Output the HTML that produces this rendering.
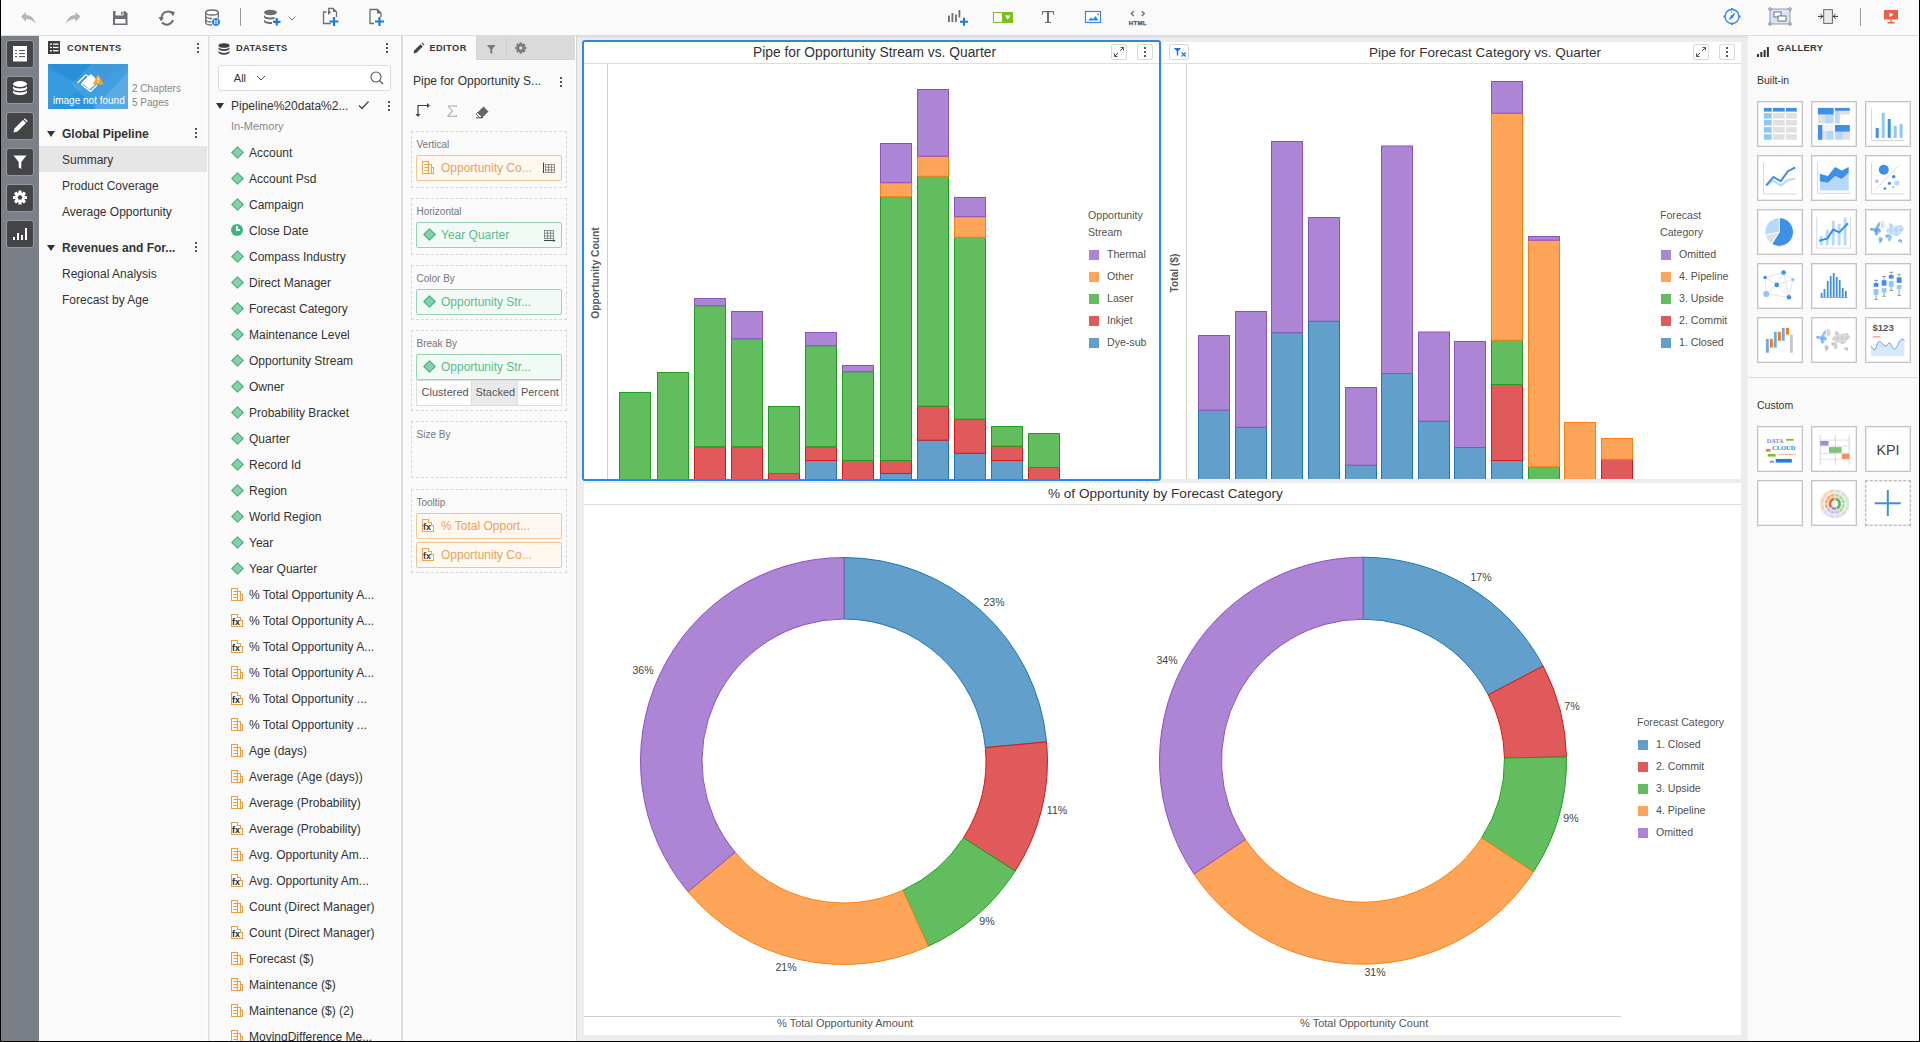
<!DOCTYPE html><html><head><meta charset="utf-8"><style>*{box-sizing:border-box;margin:0;padding:0}
html,body{width:1920px;height:1042px;overflow:hidden;background:#fafafa;font-family:"Liberation Sans",sans-serif;color:#333;position:relative}
.a{position:absolute}
.t{position:absolute;white-space:nowrap;line-height:1}
#tb{left:0;top:0;width:1920px;height:36px;background:#fafafa;border-bottom:1px solid #dcdcdc}
#sb{left:1px;top:36px;width:38px;height:1005px;background:#7b8088}
.sbb{position:absolute;left:6px;width:28px;height:28px;background:#424448;border:1px solid #97999c;border-radius:3px}
#cp{left:39px;top:36px;width:168px;height:1005px;background:#fafafa;border-right:1px solid #fff}
#dp{left:208px;top:36px;width:193px;height:1005px;background:#fafafa;border-left:1px solid #dedede;box-shadow:inset 1px 0 0 #efefef;border-right:1px solid #fff}
#ep{left:401px;top:36px;width:175px;height:1005px;background:#fafafa;border-left:1px solid #d4d4d4;box-shadow:inset 1px 0 0 #e0e0e0;border-right:1px solid #fff}
#cv{left:576px;top:36px;width:1173px;height:1005px;background:#ededed;border-left:1px solid #d4d4d4;border-right:1px solid #fff}
#gp{left:1749px;top:36px;width:170px;height:1005px;background:#fafafa;border-right:1px solid #fff}
.k{position:absolute;width:2px;height:10px}
.k i{position:absolute;left:0;width:2px;height:2px;background:#555}
.k i:nth-child(1){top:0}.k i:nth-child(2){top:4px}.k i:nth-child(3){top:8px}
.di{position:absolute;width:9px;height:9px;background:#86d0aa;border:1.4px solid #3cb478;transform:rotate(45deg);margin:0.5px 0 0 0.5px}
.dt{font-size:12px;color:#333}
.ms{position:absolute;width:12px;height:14px}
.panel{position:absolute;background:#fff}
.gt{position:absolute;width:46px;height:46px;background:#fff;border:1px solid #c8c8c8}
</style></head><body><div class="a" style="left:0;top:0;width:1px;height:1042px;background:#000;z-index:50"></div><div class="a" style="left:0;top:1041px;width:1920px;height:1px;background:#000;z-index:50"></div><div class="a" style="left:1919px;top:0;width:1px;height:1042px;background:#000;z-index:50"></div><div id="tb" class="a"><!--TB--></div><div id="sb" class="a"><!--SB--></div><div id="cp" class="a"><!--CP--></div><div id="dp" class="a"><!--DP--></div><div id="ep" class="a"><!--EP--></div><div id="cv" class="a"></div><div id="gp" class="a"></div><div class="a" style="left:577px;top:36px;width:1171px;height:2px;background:linear-gradient(#dcdcdc,#e8e8e8)"></div><div class="sbb" style="left:6px;top:40px"></div><div class="sbb" style="left:6px;top:76px"></div><div class="sbb" style="left:6px;top:112px"></div><div class="sbb" style="left:6px;top:148px"></div><div class="sbb" style="left:6px;top:184px"></div><div class="sbb" style="left:6px;top:220px"></div><!--SBICONS--><div class="a" style="left:48px;top:41px;width:12px;height:13px;background:#3c3e42"></div><div class="t" style="left:67px;top:44.1px;font-size:9.3px;color:#383838;font-weight:bold;letter-spacing:0.45px">CONTENTS</div><div class="k" style="left:197px;top:43px"><i></i><i></i><i></i></div><div class="a" style="left:48px;top:64px;width:80px;height:45px;background:#2b95dd;overflow:hidden"><div class="a" style="left:40px;top:-20px;width:80px;height:80px;background:rgba(255,255,255,0.1);transform:rotate(45deg)"></div></div><div class="t" style="left:53px;top:95.7px;font-size:10px;color:#fff;font-weight:normal;z-index:6">image not found</div><div class="t" style="left:132px;top:84.0px;font-size:10px;color:#888;font-weight:normal;">2 Chapters</div><div class="t" style="left:132px;top:98.0px;font-size:10px;color:#888;font-weight:normal;">5 Pages</div><div class="a" style="left:39px;top:146px;width:168px;height:26px;background:#e6e6e6"></div><div class="t" style="left:62px;top:128.1px;font-size:12px;color:#333;font-weight:bold;">Global Pipeline</div><div class="t" style="left:62px;top:154.1px;font-size:12px;color:#333;font-weight:normal;">Summary</div><div class="t" style="left:62px;top:180.1px;font-size:12px;color:#333;font-weight:normal;">Product Coverage</div><div class="t" style="left:62px;top:206.1px;font-size:12px;color:#333;font-weight:normal;">Average Opportunity</div><div class="t" style="left:62px;top:242.1px;font-size:12px;color:#333;font-weight:bold;">Revenues and For...</div><div class="t" style="left:62px;top:268.1px;font-size:12px;color:#333;font-weight:normal;">Regional Analysis</div><div class="t" style="left:62px;top:294.1px;font-size:12px;color:#333;font-weight:normal;">Forecast by Age</div><div class="a" style="left:47px;top:131px;width:0;height:0;border-left:4.5px solid transparent;border-right:4.5px solid transparent;border-top:6px solid #333"></div><div class="a" style="left:47px;top:245px;width:0;height:0;border-left:4.5px solid transparent;border-right:4.5px solid transparent;border-top:6px solid #333"></div><div class="k" style="left:195px;top:128px"><i></i><i></i><i></i></div><div class="k" style="left:195px;top:242px"><i></i><i></i><i></i></div><div class="t" style="left:236px;top:44.1px;font-size:9.3px;color:#383838;font-weight:bold;letter-spacing:0.35px">DATASETS</div><div class="k" style="left:386px;top:43px"><i></i><i></i><i></i></div><div class="a" style="left:218px;top:65px;width:173px;height:26px;background:#fff;border:1px solid #dcdcdc;border-radius:3px"></div><div class="t" style="left:233.8px;top:72.9px;font-size:11px;color:#333;font-weight:normal;">All</div><!--SEARCH--><div class="a" style="left:216px;top:103.3px;width:0;height:0;border-left:4.5px solid transparent;border-right:4.5px solid transparent;border-top:6px solid #333"></div><div class="t" style="left:231px;top:100.3px;font-size:12px;color:#333;font-weight:normal;">Pipeline%20data%2...</div><!--CHECK--><div class="k" style="left:388px;top:101px"><i></i><i></i><i></i></div><div class="t" style="left:231px;top:121.0px;font-size:11px;color:#888;font-weight:normal;">In-Memory</div><div class="di" style="left:232px;top:147px"></div><div class="t" style="left:249px;top:146.8px;font-size:12px;color:#333;font-weight:normal;">Account</div><div class="di" style="left:232px;top:173px"></div><div class="t" style="left:249px;top:172.8px;font-size:12px;color:#333;font-weight:normal;">Account Psd</div><div class="di" style="left:232px;top:199px"></div><div class="t" style="left:249px;top:198.8px;font-size:12px;color:#333;font-weight:normal;">Campaign</div><div class="a" style="left:231px;top:224px;width:12px;height:12px;border-radius:50%;background:#3fb47a"><div class="a" style="left:5px;top:2px;width:1.5px;height:4.5px;background:#fff"></div><div class="a" style="left:5px;top:5px;width:4px;height:1.5px;background:#fff"></div></div><div class="t" style="left:249px;top:224.8px;font-size:12px;color:#333;font-weight:normal;">Close Date</div><div class="di" style="left:232px;top:251px"></div><div class="t" style="left:249px;top:250.8px;font-size:12px;color:#333;font-weight:normal;">Compass Industry</div><div class="di" style="left:232px;top:277px"></div><div class="t" style="left:249px;top:276.8px;font-size:12px;color:#333;font-weight:normal;">Direct Manager</div><div class="di" style="left:232px;top:303px"></div><div class="t" style="left:249px;top:302.8px;font-size:12px;color:#333;font-weight:normal;">Forecast Category</div><div class="di" style="left:232px;top:329px"></div><div class="t" style="left:249px;top:328.8px;font-size:12px;color:#333;font-weight:normal;">Maintenance Level</div><div class="di" style="left:232px;top:355px"></div><div class="t" style="left:249px;top:354.8px;font-size:12px;color:#333;font-weight:normal;">Opportunity Stream</div><div class="di" style="left:232px;top:381px"></div><div class="t" style="left:249px;top:380.8px;font-size:12px;color:#333;font-weight:normal;">Owner</div><div class="di" style="left:232px;top:407px"></div><div class="t" style="left:249px;top:406.8px;font-size:12px;color:#333;font-weight:normal;">Probability Bracket</div><div class="di" style="left:232px;top:433px"></div><div class="t" style="left:249px;top:432.8px;font-size:12px;color:#333;font-weight:normal;">Quarter</div><div class="di" style="left:232px;top:459px"></div><div class="t" style="left:249px;top:458.8px;font-size:12px;color:#333;font-weight:normal;">Record Id</div><div class="di" style="left:232px;top:485px"></div><div class="t" style="left:249px;top:484.8px;font-size:12px;color:#333;font-weight:normal;">Region</div><div class="di" style="left:232px;top:511px"></div><div class="t" style="left:249px;top:510.8px;font-size:12px;color:#333;font-weight:normal;">World Region</div><div class="di" style="left:232px;top:537px"></div><div class="t" style="left:249px;top:536.8px;font-size:12px;color:#333;font-weight:normal;">Year</div><div class="di" style="left:232px;top:563px"></div><div class="t" style="left:249px;top:562.8px;font-size:12px;color:#333;font-weight:normal;">Year Quarter</div><svg class="a" style="left:231px;top:587px;z-index:5" width="14" height="15"><path d="M0.5,13.5 V1.5 H6.5 V4.5 H9.5 V7.5 H11.5 V13.5 Z M6.5,4.5 V13.5 M9.5,7.5 V13.5 M2.3,4.5 H6.5 M2.3,7.5 H6.5 M2.3,10.5 H6.5" stroke="#ec9d3e" stroke-width="1.05" fill="none"/></svg><div class="t" style="left:249px;top:588.8px;font-size:12px;color:#333;font-weight:normal;">% Total Opportunity A...</div><svg class="a" style="left:231px;top:613px;z-index:5" width="15" height="15"><path d="M0.5,13.5 V1.5 H6.5 V4.5 H9.5 V7.5 H11.5 V13.5 Z" stroke="#ec9d3e" stroke-width="1.05" fill="#fff"/><text x="1.1" y="12" font-family="Liberation Sans" font-weight="bold" font-size="9" fill="#1e1e1e">fx</text></svg><div class="t" style="left:249px;top:614.8px;font-size:12px;color:#333;font-weight:normal;">% Total Opportunity A...</div><svg class="a" style="left:231px;top:639px;z-index:5" width="15" height="15"><path d="M0.5,13.5 V1.5 H6.5 V4.5 H9.5 V7.5 H11.5 V13.5 Z" stroke="#ec9d3e" stroke-width="1.05" fill="#fff"/><text x="1.1" y="12" font-family="Liberation Sans" font-weight="bold" font-size="9" fill="#1e1e1e">fx</text></svg><div class="t" style="left:249px;top:640.8px;font-size:12px;color:#333;font-weight:normal;">% Total Opportunity A...</div><svg class="a" style="left:231px;top:665px;z-index:5" width="14" height="15"><path d="M0.5,13.5 V1.5 H6.5 V4.5 H9.5 V7.5 H11.5 V13.5 Z M6.5,4.5 V13.5 M9.5,7.5 V13.5 M2.3,4.5 H6.5 M2.3,7.5 H6.5 M2.3,10.5 H6.5" stroke="#ec9d3e" stroke-width="1.05" fill="none"/></svg><div class="t" style="left:249px;top:666.8px;font-size:12px;color:#333;font-weight:normal;">% Total Opportunity A...</div><svg class="a" style="left:231px;top:691px;z-index:5" width="15" height="15"><path d="M0.5,13.5 V1.5 H6.5 V4.5 H9.5 V7.5 H11.5 V13.5 Z" stroke="#ec9d3e" stroke-width="1.05" fill="#fff"/><text x="1.1" y="12" font-family="Liberation Sans" font-weight="bold" font-size="9" fill="#1e1e1e">fx</text></svg><div class="t" style="left:249px;top:692.8px;font-size:12px;color:#333;font-weight:normal;">% Total Opportunity ...</div><svg class="a" style="left:231px;top:717px;z-index:5" width="14" height="15"><path d="M0.5,13.5 V1.5 H6.5 V4.5 H9.5 V7.5 H11.5 V13.5 Z M6.5,4.5 V13.5 M9.5,7.5 V13.5 M2.3,4.5 H6.5 M2.3,7.5 H6.5 M2.3,10.5 H6.5" stroke="#ec9d3e" stroke-width="1.05" fill="none"/></svg><div class="t" style="left:249px;top:718.8px;font-size:12px;color:#333;font-weight:normal;">% Total Opportunity ...</div><svg class="a" style="left:231px;top:743px;z-index:5" width="14" height="15"><path d="M0.5,13.5 V1.5 H6.5 V4.5 H9.5 V7.5 H11.5 V13.5 Z M6.5,4.5 V13.5 M9.5,7.5 V13.5 M2.3,4.5 H6.5 M2.3,7.5 H6.5 M2.3,10.5 H6.5" stroke="#ec9d3e" stroke-width="1.05" fill="none"/></svg><div class="t" style="left:249px;top:744.8px;font-size:12px;color:#333;font-weight:normal;">Age (days)</div><svg class="a" style="left:231px;top:769px;z-index:5" width="14" height="15"><path d="M0.5,13.5 V1.5 H6.5 V4.5 H9.5 V7.5 H11.5 V13.5 Z M6.5,4.5 V13.5 M9.5,7.5 V13.5 M2.3,4.5 H6.5 M2.3,7.5 H6.5 M2.3,10.5 H6.5" stroke="#ec9d3e" stroke-width="1.05" fill="none"/></svg><div class="t" style="left:249px;top:770.8px;font-size:12px;color:#333;font-weight:normal;">Average (Age (days))</div><svg class="a" style="left:231px;top:795px;z-index:5" width="14" height="15"><path d="M0.5,13.5 V1.5 H6.5 V4.5 H9.5 V7.5 H11.5 V13.5 Z M6.5,4.5 V13.5 M9.5,7.5 V13.5 M2.3,4.5 H6.5 M2.3,7.5 H6.5 M2.3,10.5 H6.5" stroke="#ec9d3e" stroke-width="1.05" fill="none"/></svg><div class="t" style="left:249px;top:796.8px;font-size:12px;color:#333;font-weight:normal;">Average (Probability)</div><svg class="a" style="left:231px;top:821px;z-index:5" width="15" height="15"><path d="M0.5,13.5 V1.5 H6.5 V4.5 H9.5 V7.5 H11.5 V13.5 Z" stroke="#ec9d3e" stroke-width="1.05" fill="#fff"/><text x="1.1" y="12" font-family="Liberation Sans" font-weight="bold" font-size="9" fill="#1e1e1e">fx</text></svg><div class="t" style="left:249px;top:822.8px;font-size:12px;color:#333;font-weight:normal;">Average (Probability)</div><svg class="a" style="left:231px;top:847px;z-index:5" width="14" height="15"><path d="M0.5,13.5 V1.5 H6.5 V4.5 H9.5 V7.5 H11.5 V13.5 Z M6.5,4.5 V13.5 M9.5,7.5 V13.5 M2.3,4.5 H6.5 M2.3,7.5 H6.5 M2.3,10.5 H6.5" stroke="#ec9d3e" stroke-width="1.05" fill="none"/></svg><div class="t" style="left:249px;top:848.8px;font-size:12px;color:#333;font-weight:normal;">Avg. Opportunity Am...</div><svg class="a" style="left:231px;top:873px;z-index:5" width="15" height="15"><path d="M0.5,13.5 V1.5 H6.5 V4.5 H9.5 V7.5 H11.5 V13.5 Z" stroke="#ec9d3e" stroke-width="1.05" fill="#fff"/><text x="1.1" y="12" font-family="Liberation Sans" font-weight="bold" font-size="9" fill="#1e1e1e">fx</text></svg><div class="t" style="left:249px;top:874.8px;font-size:12px;color:#333;font-weight:normal;">Avg. Opportunity Am...</div><svg class="a" style="left:231px;top:899px;z-index:5" width="14" height="15"><path d="M0.5,13.5 V1.5 H6.5 V4.5 H9.5 V7.5 H11.5 V13.5 Z M6.5,4.5 V13.5 M9.5,7.5 V13.5 M2.3,4.5 H6.5 M2.3,7.5 H6.5 M2.3,10.5 H6.5" stroke="#ec9d3e" stroke-width="1.05" fill="none"/></svg><div class="t" style="left:249px;top:900.8px;font-size:12px;color:#333;font-weight:normal;">Count (Direct Manager)</div><svg class="a" style="left:231px;top:925px;z-index:5" width="15" height="15"><path d="M0.5,13.5 V1.5 H6.5 V4.5 H9.5 V7.5 H11.5 V13.5 Z" stroke="#ec9d3e" stroke-width="1.05" fill="#fff"/><text x="1.1" y="12" font-family="Liberation Sans" font-weight="bold" font-size="9" fill="#1e1e1e">fx</text></svg><div class="t" style="left:249px;top:926.8px;font-size:12px;color:#333;font-weight:normal;">Count (Direct Manager)</div><svg class="a" style="left:231px;top:951px;z-index:5" width="14" height="15"><path d="M0.5,13.5 V1.5 H6.5 V4.5 H9.5 V7.5 H11.5 V13.5 Z M6.5,4.5 V13.5 M9.5,7.5 V13.5 M2.3,4.5 H6.5 M2.3,7.5 H6.5 M2.3,10.5 H6.5" stroke="#ec9d3e" stroke-width="1.05" fill="none"/></svg><div class="t" style="left:249px;top:952.8px;font-size:12px;color:#333;font-weight:normal;">Forecast ($)</div><svg class="a" style="left:231px;top:977px;z-index:5" width="14" height="15"><path d="M0.5,13.5 V1.5 H6.5 V4.5 H9.5 V7.5 H11.5 V13.5 Z M6.5,4.5 V13.5 M9.5,7.5 V13.5 M2.3,4.5 H6.5 M2.3,7.5 H6.5 M2.3,10.5 H6.5" stroke="#ec9d3e" stroke-width="1.05" fill="none"/></svg><div class="t" style="left:249px;top:978.8px;font-size:12px;color:#333;font-weight:normal;">Maintenance ($)</div><svg class="a" style="left:231px;top:1003px;z-index:5" width="14" height="15"><path d="M0.5,13.5 V1.5 H6.5 V4.5 H9.5 V7.5 H11.5 V13.5 Z M6.5,4.5 V13.5 M9.5,7.5 V13.5 M2.3,4.5 H6.5 M2.3,7.5 H6.5 M2.3,10.5 H6.5" stroke="#ec9d3e" stroke-width="1.05" fill="none"/></svg><div class="t" style="left:249px;top:1004.8px;font-size:12px;color:#333;font-weight:normal;">Maintenance ($) (2)</div><svg class="a" style="left:231px;top:1029px;z-index:5" width="14" height="15"><path d="M0.5,13.5 V1.5 H6.5 V4.5 H9.5 V7.5 H11.5 V13.5 Z M6.5,4.5 V13.5 M9.5,7.5 V13.5 M2.3,4.5 H6.5 M2.3,7.5 H6.5 M2.3,10.5 H6.5" stroke="#ec9d3e" stroke-width="1.05" fill="none"/></svg><div class="t" style="left:249px;top:1030.8px;font-size:12px;color:#333;font-weight:normal;">MovingDifference Me...</div><div class="a" style="left:476px;top:36px;width:99px;height:24px;background:#dadada;border-bottom:1px solid #d2d2d2;border-left:1px solid #d4d4d4"></div><div class="a" style="left:506px;top:37px;width:1px;height:22px;background:#cfcfcf"></div><div class="t" style="left:429.4px;top:44.1px;font-size:9.3px;color:#383838;font-weight:bold;letter-spacing:0.4px">EDITOR</div><!--EDTABICONS--><div class="t" style="left:413px;top:75.1px;font-size:12px;color:#333;font-weight:normal;">Pipe for Opportunity S...</div><div class="k" style="left:560px;top:77px"><i></i><i></i><i></i></div><!--EDTOOLS--><div class="a" style="left:582px;top:40px;width:579px;height:441px;background:#fff;border:2px solid #2a88ea;border-radius:3px;z-index:1"></div><div class="a" style="left:584px;top:63px;width:575px;height:1px;background:#dedede;z-index:2"></div><div class="a" style="left:607px;top:64px;width:1px;height:415px;background:#cfcfcf;z-index:2"></div><div class="t" style="left:874.5px;top:45.9px;font-size:13.8px;color:#333;font-weight:normal;z-index:2;transform:translateX(-50%)">Pipe for Opportunity Stream vs. Quarter</div><div class="a" style="left:1162px;top:42px;width:579px;height:437px;background:#fff;z-index:1"></div><div class="a" style="left:1162px;top:63px;width:579px;height:1px;background:#dedede;z-index:2"></div><div class="a" style="left:1186px;top:64px;width:1px;height:415px;background:#cfcfcf;z-index:2"></div><div class="t" style="left:1485px;top:46.2px;font-size:13.5px;color:#333;font-weight:normal;z-index:2;transform:translateX(-50%)">Pipe for Forecast Category vs. Quarter</div><div class="a" style="left:584px;top:483px;width:1157px;height:552px;background:#fff;z-index:1"></div><div class="a" style="left:584px;top:504px;width:1157px;height:1px;background:#dedede;z-index:2"></div><div class="t" style="left:1165.4px;top:486.5px;font-size:13.6px;color:#333;font-weight:normal;z-index:2;transform:translateX(-50%)">% of Opportunity by Forecast Category</div><div class="a" style="left:584px;top:1016px;width:1037px;height:1px;background:#d0d0d0;z-index:2"></div><div class="t" style="left:777px;top:1017.7px;font-size:11px;color:#555;font-weight:normal;z-index:2">% Total Opportunity Amount</div><div class="t" style="left:1300px;top:1017.7px;font-size:11px;color:#555;font-weight:normal;z-index:2">% Total Opportunity Count</div><div class="a" style="left:1111px;top:44px;width:16px;height:16px;border:1px solid #d8d8d8;border-radius:2px;background:#fff;z-index:3"><svg width="14" height="14" style="position:absolute;left:0;top:0"><path d="M8.5,2.5h3v3M11.5,2.5l-3.5,3.5M5.5,11.5h-3v-3M2.5,11.5l3.5,-3.5" stroke="#555" stroke-width="1" fill="none"/></svg></div><div class="a" style="left:1137px;top:44px;width:16px;height:16px;border:1px solid #d8d8d8;border-radius:2px;background:#fff;z-index:3"><div class="k" style="left:6px;top:2px"><i></i><i></i><i></i></div></div><div class="a" style="left:1693px;top:44px;width:16px;height:16px;border:1px solid #d8d8d8;border-radius:2px;background:#fff;z-index:3"><svg width="14" height="14" style="position:absolute;left:0;top:0"><path d="M8.5,2.5h3v3M11.5,2.5l-3.5,3.5M5.5,11.5h-3v-3M2.5,11.5l3.5,-3.5" stroke="#555" stroke-width="1" fill="none"/></svg></div><div class="a" style="left:1719px;top:44px;width:16px;height:16px;border:1px solid #d8d8d8;border-radius:2px;background:#fff;z-index:3"><div class="k" style="left:6px;top:2px"><i></i><i></i><i></i></div></div><div class="a" style="left:1169px;top:44px;width:20px;height:16px;border:1px solid #d8d8d8;border-radius:2px;background:#fff;z-index:3"><svg width="18" height="14" style="position:absolute;left:-1px;top:-1px"><path d="M4.9,4 H12 L9.2,7.3 V11.3 L7.8,11.8 V7.3 Z" fill="#1e6fd6"/><path d="M12.6,8.4 L16.7,12.4 M16.7,8.4 L12.6,12.4" stroke="#2a7de0" stroke-width="1.4"/></svg></div><div class="t" style="left:596px;top:272.5px;font-size:10.3px;font-weight:bold;color:#5a5a5a;transform:translate(-50%,-50%) rotate(-90deg);z-index:2">Opportunity Count</div><div class="t" style="left:1175px;top:273px;font-size:10.2px;font-weight:bold;color:#5a5a5a;transform:translate(-50%,-50%) rotate(-90deg);z-index:2">Total ($)</div><div class="t" style="left:1088px;top:210.0px;font-size:10.6px;color:#555;font-weight:normal;z-index:2">Opportunity</div><div class="t" style="left:1088px;top:226.8px;font-size:10.6px;color:#555;font-weight:normal;z-index:2">Stream</div><div class="a" style="left:1089px;top:249.8px;width:10px;height:10px;background:#ad85d5;z-index:2"></div><div class="t" style="left:1107px;top:249.0px;font-size:10.6px;color:#505050;font-weight:normal;z-index:2">Thermal</div><div class="a" style="left:1089px;top:271.8px;width:10px;height:10px;background:#fea559;z-index:2"></div><div class="t" style="left:1107px;top:271.0px;font-size:10.6px;color:#505050;font-weight:normal;z-index:2">Other</div><div class="a" style="left:1089px;top:293.8px;width:10px;height:10px;background:#61bd5e;z-index:2"></div><div class="t" style="left:1107px;top:293.0px;font-size:10.6px;color:#505050;font-weight:normal;z-index:2">Laser</div><div class="a" style="left:1089px;top:315.8px;width:10px;height:10px;background:#e05a5c;z-index:2"></div><div class="t" style="left:1107px;top:315.0px;font-size:10.6px;color:#505050;font-weight:normal;z-index:2">Inkjet</div><div class="a" style="left:1089px;top:337.8px;width:10px;height:10px;background:#629fcb;z-index:2"></div><div class="t" style="left:1107px;top:337.0px;font-size:10.6px;color:#505050;font-weight:normal;z-index:2">Dye-sub</div><div class="t" style="left:1660px;top:210.0px;font-size:10.6px;color:#555;font-weight:normal;z-index:2">Forecast</div><div class="t" style="left:1660px;top:226.8px;font-size:10.6px;color:#555;font-weight:normal;z-index:2">Category</div><div class="a" style="left:1661px;top:249.8px;width:10px;height:10px;background:#ad85d5;z-index:2"></div><div class="t" style="left:1679px;top:249.0px;font-size:10.6px;color:#505050;font-weight:normal;z-index:2">Omitted</div><div class="a" style="left:1661px;top:271.8px;width:10px;height:10px;background:#fea559;z-index:2"></div><div class="t" style="left:1679px;top:271.0px;font-size:10.6px;color:#505050;font-weight:normal;z-index:2">4. Pipeline</div><div class="a" style="left:1661px;top:293.8px;width:10px;height:10px;background:#61bd5e;z-index:2"></div><div class="t" style="left:1679px;top:293.0px;font-size:10.6px;color:#505050;font-weight:normal;z-index:2">3. Upside</div><div class="a" style="left:1661px;top:315.8px;width:10px;height:10px;background:#e05a5c;z-index:2"></div><div class="t" style="left:1679px;top:315.0px;font-size:10.6px;color:#505050;font-weight:normal;z-index:2">2. Commit</div><div class="a" style="left:1661px;top:337.8px;width:10px;height:10px;background:#629fcb;z-index:2"></div><div class="t" style="left:1679px;top:337.0px;font-size:10.6px;color:#505050;font-weight:normal;z-index:2">1. Closed</div><div class="t" style="left:1637px;top:717.0px;font-size:10.6px;color:#555;font-weight:normal;z-index:2">Forecast Category</div><div class="a" style="left:1638px;top:739.8px;width:10px;height:10px;background:#629fcb;z-index:2"></div><div class="t" style="left:1656px;top:739.0px;font-size:10.6px;color:#505050;font-weight:normal;z-index:2">1. Closed</div><div class="a" style="left:1638px;top:761.8px;width:10px;height:10px;background:#e05a5c;z-index:2"></div><div class="t" style="left:1656px;top:761.0px;font-size:10.6px;color:#505050;font-weight:normal;z-index:2">2. Commit</div><div class="a" style="left:1638px;top:783.8px;width:10px;height:10px;background:#61bd5e;z-index:2"></div><div class="t" style="left:1656px;top:783.0px;font-size:10.6px;color:#505050;font-weight:normal;z-index:2">3. Upside</div><div class="a" style="left:1638px;top:805.8px;width:10px;height:10px;background:#fea559;z-index:2"></div><div class="t" style="left:1656px;top:805.0px;font-size:10.6px;color:#505050;font-weight:normal;z-index:2">4. Pipeline</div><div class="a" style="left:1638px;top:827.8px;width:10px;height:10px;background:#ad85d5;z-index:2"></div><div class="t" style="left:1656px;top:827.0px;font-size:10.6px;color:#505050;font-weight:normal;z-index:2">Omitted</div><div class="t" style="left:994px;top:602px;font-size:10.6px;color:#444;transform:translate(-50%,-50%);z-index:2">23%</div><div class="t" style="left:643px;top:670px;font-size:10.6px;color:#444;transform:translate(-50%,-50%);z-index:2">36%</div><div class="t" style="left:1057px;top:810px;font-size:10.6px;color:#444;transform:translate(-50%,-50%);z-index:2">11%</div><div class="t" style="left:987px;top:921px;font-size:10.6px;color:#444;transform:translate(-50%,-50%);z-index:2">9%</div><div class="t" style="left:786px;top:967px;font-size:10.6px;color:#444;transform:translate(-50%,-50%);z-index:2">21%</div><div class="t" style="left:1481px;top:577px;font-size:10.6px;color:#444;transform:translate(-50%,-50%);z-index:2">17%</div><div class="t" style="left:1572px;top:706px;font-size:10.6px;color:#444;transform:translate(-50%,-50%);z-index:2">7%</div><div class="t" style="left:1571px;top:818px;font-size:10.6px;color:#444;transform:translate(-50%,-50%);z-index:2">9%</div><div class="t" style="left:1375px;top:972px;font-size:10.6px;color:#444;transform:translate(-50%,-50%);z-index:2">31%</div><div class="t" style="left:1167px;top:660px;font-size:10.6px;color:#444;transform:translate(-50%,-50%);z-index:2">34%</div><div class="a" style="left:1757px;top:43px;width:12px;height:10px"><svg width="12" height="10"><rect x="0" y="7" width="2" height="3" fill="#333"/><rect x="3.3" y="5" width="2" height="5" fill="#333"/><rect x="6.6" y="3" width="2" height="7" fill="#333"/><rect x="9.9" y="0" width="2" height="10" fill="#333"/></svg></div><div class="t" style="left:1777px;top:44.1px;font-size:9.3px;font-weight:bold;color:#383838;letter-spacing:0.3px">GALLERY</div><div class="t" style="left:1757px;top:74.9px;font-size:10.5px;color:#333">Built-in</div><div class="a" style="left:1757px;top:101px;width:46px;height:46px;background:#fff;border:1px solid #c4c4c4;box-shadow:inset 0 0 0 0.5px #d8d8d8"><svg width="46" height="46" viewBox="0 0 46 46" style="position:absolute;left:-1px;top:-1px;overflow:visible"><rect x="6.9" y="6.9" width="7.80" height="3.70" fill="#3d8fe8"/><rect x="16" y="6.9" width="11.70" height="3.70" fill="#3d8fe8"/><rect x="29" y="6.9" width="10.80" height="3.70" fill="#3d8fe8"/><rect x="6.9" y="12.1" width="7.80" height="5.50" fill="#90c6f8"/><rect x="16" y="12.1" width="11.70" height="5.50" fill="#e0e0e0"/><rect x="29" y="12.1" width="10.80" height="5.50" fill="#e0e0e0"/><rect x="6.9" y="19" width="7.80" height="5.50" fill="#90c6f8"/><rect x="16" y="19" width="11.70" height="5.50" fill="#e0e0e0"/><rect x="29" y="19" width="10.80" height="5.50" fill="#e0e0e0"/><rect x="6.9" y="26.1" width="7.80" height="5.50" fill="#90c6f8"/><rect x="16" y="26.1" width="11.70" height="5.50" fill="#e0e0e0"/><rect x="29" y="26.1" width="10.80" height="5.50" fill="#e0e0e0"/><rect x="6.9" y="33.2" width="7.80" height="5.60" fill="#90c6f8"/><rect x="16" y="33.2" width="11.70" height="5.60" fill="#e0e0e0"/><rect x="29" y="33.2" width="10.80" height="5.60" fill="#e0e0e0"/></svg></div><div class="a" style="left:1811px;top:101px;width:46px;height:46px;background:#fff;border:1px solid #c4c4c4;box-shadow:inset 0 0 0 0.5px #d8d8d8"><svg width="46" height="46" viewBox="0 0 46 46" style="position:absolute;left:-1px;top:-1px;overflow:visible"><rect x="6.9" y="6.9" width="15.80" height="6.80" fill="#3d8fe8"/><rect x="24" y="6.9" width="14.80" height="3.00" fill="#3d8fe8"/><rect x="28.7" y="9.9" width="10.10" height="3.80" fill="#e0e0e0"/><rect x="24" y="9.9" width="4.70" height="12.50" fill="#b5d8fb"/><rect x="6.9" y="13.7" width="6.80" height="8.70" fill="#e0e0e0"/><rect x="13.7" y="13.7" width="9.00" height="8.70" fill="#b5d8fb"/><rect x="6.9" y="24" width="4.70" height="14.80" fill="#3d8fe8"/><rect x="11.6" y="24" width="11.10" height="5.80" fill="#f2f2f2"/><rect x="11.6" y="29.8" width="4.20" height="9.00" fill="#e0e0e0"/><rect x="15.8" y="29.8" width="6.90" height="9.00" fill="#b5d8fb"/><rect x="24" y="24" width="14.80" height="6.80" fill="#3d8fe8"/><rect x="24" y="30.8" width="8.70" height="8.00" fill="#b5d8fb"/><rect x="32.7" y="30.8" width="6.10" height="8.00" fill="#e0e0e0"/></svg></div><div class="a" style="left:1865px;top:101px;width:46px;height:46px;background:#fff;border:1px solid #c4c4c4;box-shadow:inset 0 0 0 0.5px #d8d8d8"><svg width="46" height="46" viewBox="0 0 46 46" style="position:absolute;left:-1px;top:-1px;overflow:visible"><path d="M6.5,7.6V39.5H39.7" stroke="#d8d8d8" fill="none"/><rect x="10.7" y="26.9" width="3.00" height="10.00" fill="#3d8fe8"/><rect x="16.7" y="11.8" width="3.00" height="25.10" fill="#90c6f8"/><rect x="22.7" y="18" width="3.00" height="18.90" fill="#3d8fe8"/><rect x="28.7" y="24.8" width="3.00" height="12.10" fill="#90c6f8"/><rect x="34.6" y="22.9" width="3.00" height="14.00" fill="#90c6f8"/></svg></div><div class="a" style="left:1757px;top:155px;width:46px;height:46px;background:#fff;border:1px solid #c4c4c4;box-shadow:inset 0 0 0 0.5px #d8d8d8"><svg width="46" height="46" viewBox="0 0 46 46" style="position:absolute;left:-1px;top:-1px;overflow:visible"><path d="M6.5,7.7V39H39.8" stroke="#d8d8d8" fill="none"/><polyline points="9.2,30.6 16.3,25.7 23.7,30.6 31,25.1 38.2,23.5" stroke="#b5d8fb" stroke-width="2" fill="none"/><polyline points="9.2,30.4 16.3,22 23.7,26.2 31,16.2 38.2,12.5" stroke="#3d8fe8" stroke-width="2" fill="none"/></svg></div><div class="a" style="left:1811px;top:155px;width:46px;height:46px;background:#fff;border:1px solid #c4c4c4;box-shadow:inset 0 0 0 0.5px #d8d8d8"><svg width="46" height="46" viewBox="0 0 46 46" style="position:absolute;left:-1px;top:-1px;overflow:visible"><path d="M6.5,7V38.3H39.6" stroke="#d8d8d8" fill="none"/><polygon points="8.8,26.2 16.9,27.8 24.1,20.9 30.8,24.1 37.7,17.7 37.7,35.5 8.8,35.5" fill="#b5d8fb"/><polygon points="8.8,18.8 16.9,20.9 24.1,11.9 30.8,15.6 37.7,11.9 37.7,17.7 30.8,24.1 24.1,20.9 16.9,27.8 8.8,26.2" fill="#3d8fe8"/></svg></div><div class="a" style="left:1865px;top:155px;width:46px;height:46px;background:#fff;border:1px solid #c4c4c4;box-shadow:inset 0 0 0 0.5px #d8d8d8"><svg width="46" height="46" viewBox="0 0 46 46" style="position:absolute;left:-1px;top:-1px;overflow:visible"><path d="M6.5,7.7V39H39.7" stroke="#d8d8d8" fill="none"/><path d="M10.3,34.6L34.1,10.3" stroke="#cfcfcf" stroke-width="0.8"/><circle cx="18.8" cy="14.8" r="5" fill="#3d8fe8"/><circle cx="28.7" cy="21.8" r="1.8" fill="#3d8fe8"/><circle cx="11.9" cy="26.2" r="1.9" fill="#c8c8c8"/><circle cx="24.5" cy="28.3" r="1.6" fill="#3d8fe8"/><circle cx="31.9" cy="28" r="2.5" fill="#b5d8fb"/><circle cx="28.3" cy="32.2" r="1.4" fill="#c8c8c8"/><circle cx="19.8" cy="33.6" r="1.3" fill="#3d8fe8"/></svg></div><div class="a" style="left:1757px;top:209px;width:46px;height:46px;background:#fff;border:1px solid #c4c4c4;box-shadow:inset 0 0 0 0.5px #d8d8d8"><svg width="46" height="46" viewBox="0 0 46 46" style="position:absolute;left:-1px;top:-1px;overflow:visible"><path d="M22.2,23L22.20,8.75A14.25,14.25 0 1 1 14.69,35.11Z" fill="#3d8fe8" stroke="#fff" stroke-width="0.8"/><path d="M22.2,23L14.69,35.11A14.25,14.25 0 0 1 8.26,25.96Z" fill="#e0e0e0" stroke="#fff" stroke-width="0.8"/><path d="M22.2,23L8.26,25.96A14.25,14.25 0 0 1 22.20,8.75Z" fill="#b5d8fb" stroke="#fff" stroke-width="0.8"/></svg></div><div class="a" style="left:1811px;top:209px;width:46px;height:46px;background:#fff;border:1px solid #c4c4c4;box-shadow:inset 0 0 0 0.5px #d8d8d8"><svg width="46" height="46" viewBox="0 0 46 46" style="position:absolute;left:-1px;top:-1px;overflow:visible"><path d="M5.8,7.9V39.1H39.6V7.9" stroke="#d8d8d8" fill="none"/><rect x="8.8" y="26.9" width="2.90" height="9.50" fill="#b5d8fb"/><rect x="14.8" y="20.8" width="2.90" height="15.60" fill="#b5d8fb"/><rect x="20.8" y="11.8" width="2.90" height="24.60" fill="#b5d8fb"/><rect x="26.7" y="14.8" width="2.90" height="21.60" fill="#b5d8fb"/><rect x="32.7" y="8.7" width="2.90" height="27.70" fill="#b5d8fb"/><polyline points="8.2,31.7 16.4,29.4 22.2,20.6 28.3,23.4 37,14.3" stroke="#3d8fe8" stroke-width="2" fill="none"/></svg></div><div class="a" style="left:1865px;top:209px;width:46px;height:46px;background:#fff;border:1px solid #c4c4c4;box-shadow:inset 0 0 0 0.5px #d8d8d8"><svg width="46" height="46" viewBox="0 0 46 46" style="position:absolute;left:-1px;top:-1px;overflow:visible"><defs><pattern id="pwm1" width="1.25" height="1.25" patternUnits="userSpaceOnUse"><rect width="1.05" height="1.05" fill="#fff"/></pattern><mask id="wm1"><rect width="46" height="46" fill="url(#pwm1)"/></mask></defs><g mask="url(#wm1)"><polygon points="5,19.5 7,18.8 9.5,19.2 11.5,17.5 13,14 14.8,12.5 15,15.5 14,18.5 15.8,21.5 15.5,23 13.5,24.5 12,26.5 11,26.5 9.5,24 8.5,21.5 5.5,21.5" fill="#3d8fe8"/><polygon points="15.5,12.5 17.5,11.8 19.7,13 19.5,18.5 17.5,20 16,18.5" fill="#c0dcfa"/><polygon points="13.8,28 16.5,28.2 18,30 16.5,33 14.5,35.5 14,32 13.2,29.5" fill="#5ea4ee"/><polygon points="20.3,26.2 23,25 25.5,26 26.8,28.5 25.5,31.5 24,32.8 23.2,30.5 22,29 20.3,27.8" fill="#5ea4ee"/><polygon points="21,22 23,19 24.5,18.5 23.5,14.5 26,14 29,17.5 33,16.5 36,16 39.7,19.5 36,23.5 34,26.5 31,27 28.5,26 25,25 22,23.5" fill="#a9cff7"/><polygon points="33,31 35,30 37,31 36.5,34.5 34.5,33 33,32.5" fill="#5ea4ee"/></g></svg></div><div class="a" style="left:1757px;top:263px;width:46px;height:46px;background:#fff;border:1px solid #c4c4c4;box-shadow:inset 0 0 0 0.5px #d8d8d8"><svg width="46" height="46" viewBox="0 0 46 46" style="position:absolute;left:-1px;top:-1px;overflow:visible"><line x1="26.6" y1="9.5" x2="8.1" y2="14.5" stroke="#ddd" stroke-width="0.8"/><line x1="26.6" y1="9.5" x2="35.9" y2="16.5" stroke="#ddd" stroke-width="0.8"/><line x1="26.6" y1="9.5" x2="19.7" y2="21.9" stroke="#ddd" stroke-width="0.8"/><line x1="26.6" y1="9.5" x2="31.9" y2="34.3" stroke="#ddd" stroke-width="0.8"/><line x1="8.1" y1="14.5" x2="19.7" y2="21.9" stroke="#ddd" stroke-width="0.8"/><line x1="8.1" y1="14.5" x2="9.2" y2="30.9" stroke="#ddd" stroke-width="0.8"/><line x1="19.7" y1="21.9" x2="35.9" y2="16.5" stroke="#ddd" stroke-width="0.8"/><line x1="19.7" y1="21.9" x2="31.9" y2="34.3" stroke="#ddd" stroke-width="0.8"/><line x1="9.2" y1="30.9" x2="31.9" y2="34.3" stroke="#ddd" stroke-width="0.8"/><line x1="35.9" y1="16.5" x2="31.9" y2="34.3" stroke="#ddd" stroke-width="0.8"/><line x1="19.7" y1="21.9" x2="9.2" y2="30.9" stroke="#ddd" stroke-width="0.8"/><circle cx="26.6" cy="9.5" r="2.3" fill="#3d8fe8"/><circle cx="8.1" cy="14.5" r="1.8" fill="#3d8fe8"/><circle cx="35.9" cy="16.5" r="1.6" fill="#90c6f8"/><circle cx="19.7" cy="21.9" r="2.3" fill="#3d8fe8"/><circle cx="9.2" cy="30.9" r="3" fill="#90c6f8"/><circle cx="31.9" cy="34.3" r="2.3" fill="#3d8fe8"/></svg></div><div class="a" style="left:1811px;top:263px;width:46px;height:46px;background:#fff;border:1px solid #c4c4c4;box-shadow:inset 0 0 0 0.5px #d8d8d8"><svg width="46" height="46" viewBox="0 0 46 46" style="position:absolute;left:-1px;top:-1px;overflow:visible"><line x1="9" y1="34.5" x2="36.6" y2="34.5" stroke="#888" stroke-width="0.6"/><rect x="9.7" y="29.9" width="1.80" height="4.40" fill="#3d8fe8"/><rect x="12.6" y="25.9" width="1.80" height="8.40" fill="#3d8fe8"/><rect x="15.799999999999999" y="18" width="1.80" height="16.30" fill="#3d8fe8"/><rect x="18.8" y="13" width="1.80" height="21.30" fill="#3d8fe8"/><rect x="21.8" y="10" width="1.80" height="24.30" fill="#3d8fe8"/><rect x="24.8" y="14" width="1.80" height="20.30" fill="#3d8fe8"/><rect x="27.8" y="16.9" width="1.80" height="17.40" fill="#3d8fe8"/><rect x="30.8" y="25" width="1.80" height="9.30" fill="#3d8fe8"/><rect x="33.9" y="28" width="1.80" height="6.30" fill="#3d8fe8"/></svg></div><div class="a" style="left:1865px;top:263px;width:46px;height:46px;background:#fff;border:1px solid #c4c4c4;box-shadow:inset 0 0 0 0.5px #d8d8d8"><svg width="46" height="46" viewBox="0 0 46 46" style="position:absolute;left:-1px;top:-1px;overflow:visible"><path d="M9.1,17.4H13.1M11.1,17.4V20M11.1,31.9V36.4M9.1,36.4H13.1" stroke="#888" stroke-width="0.8" fill="none"/><rect x="8.7" y="20" width="4.80" height="3.80" fill="#3d8fe8"/><rect x="8.7" y="26" width="4.80" height="5.90" fill="#90c6f8"/><path d="M17.1,13.5H21.1M19.1,13.5V17.2M19.1,29.6V33.3M17.1,33.3H21.1" stroke="#888" stroke-width="0.8" fill="none"/><rect x="16.700000000000003" y="17.2" width="4.80" height="5.50" fill="#3d8fe8"/><rect x="16.700000000000003" y="25.1" width="4.80" height="4.50" fill="#90c6f8"/><path d="M24.2,9.3H28.2M26.2,9.3V12.1M26.2,23.8V27.5M24.2,27.5H28.2" stroke="#888" stroke-width="0.8" fill="none"/><rect x="23.8" y="12.1" width="4.80" height="3.50" fill="#3d8fe8"/><rect x="23.8" y="18" width="4.80" height="5.80" fill="#90c6f8"/><path d="M32.1,11.4H36.1M34.1,11.4V14.3M34.1,25.9V32.4M32.1,32.4H36.1" stroke="#888" stroke-width="0.8" fill="none"/><rect x="31.700000000000003" y="14.3" width="4.80" height="5.60" fill="#3d8fe8"/><rect x="31.700000000000003" y="22.2" width="4.80" height="3.70" fill="#90c6f8"/></svg></div><div class="a" style="left:1757px;top:317px;width:46px;height:46px;background:#fff;border:1px solid #c4c4c4;box-shadow:inset 0 0 0 0.5px #d8d8d8"><svg width="46" height="46" viewBox="0 0 46 46" style="position:absolute;left:-1px;top:-1px;overflow:visible"><rect x="8.9" y="21.9" width="2.90" height="13.80" fill="#6ea8ec"/><rect x="12.9" y="21.9" width="2.90" height="8.70" fill="#f57a20"/><rect x="16.9" y="14.8" width="2.80" height="15.80" fill="#6ea8ec"/><rect x="20.8" y="14.8" width="3.00" height="9.00" fill="#f57a20"/><rect x="24.8" y="10.9" width="2.90" height="12.90" fill="#6ea8ec"/><rect x="28.9" y="10.9" width="3.00" height="6.80" fill="#f57a20"/><rect x="32.9" y="17.7" width="2.90" height="18.00" fill="#c8c8c8"/></svg></div><div class="a" style="left:1811px;top:317px;width:46px;height:46px;background:#fff;border:1px solid #c4c4c4;box-shadow:inset 0 0 0 0.5px #d8d8d8"><svg width="46" height="46" viewBox="0 0 46 46" style="position:absolute;left:-1px;top:-1px;overflow:visible"><defs><pattern id="pwm2" width="1.25" height="1.25" patternUnits="userSpaceOnUse"><rect width="1.05" height="1.05" fill="#fff"/></pattern><mask id="wm2"><rect width="46" height="46" fill="url(#pwm2)"/></mask></defs><g mask="url(#wm2)"><polygon points="5,19.5 7,18.8 9.5,19.2 11.5,17.5 13,14 14.8,12.5 15,15.5 14,18.5 15.8,21.5 15.5,23 13.5,24.5 12,26.5 11,26.5 9.5,24 8.5,21.5 5.5,21.5" fill="#5ea4ee"/><polygon points="15.5,12.5 17.5,11.8 19.7,13 19.5,18.5 17.5,20 16,18.5" fill="#c8c8c8"/><polygon points="13.8,28 16.5,28.2 18,30 16.5,33 14.5,35.5 14,32 13.2,29.5" fill="#b8b8b8"/><polygon points="20.3,26.2 23,25 25.5,26 26.8,28.5 25.5,31.5 24,32.8 23.2,30.5 22,29 20.3,27.8" fill="#b8b8b8"/><polygon points="21,22 23,19 24.5,18.5 23.5,14.5 26,14 29,17.5 33,16.5 36,16 39.7,19.5 36,23.5 34,26.5 31,27 28.5,26 25,25 22,23.5" fill="#c4c4c4"/><polygon points="33,31 35,30 37,31 36.5,34.5 34.5,33 33,32.5" fill="#b8b8b8"/></g></svg></div><div class="a" style="left:1865px;top:317px;width:46px;height:46px;background:#fff;border:1px solid #c4c4c4;box-shadow:inset 0 0 0 0.5px #d8d8d8"><svg width="46" height="46" viewBox="0 0 46 46" style="position:absolute;left:-1px;top:-1px;overflow:visible"><text x="7.4" y="13.8" font-family="Liberation Sans" font-weight="bold" font-size="9.6" fill="#555">$123</text><line x1="7.6" y1="16" x2="29.6" y2="16" stroke="#ddd" stroke-width="0.6"/><line x1="7.6" y1="19.9" x2="15.6" y2="19.9" stroke="#f4a0a0" stroke-width="1.5"/><path d="M5.9,29 C7.5,31 8.5,33 9.8,32.7 C11.5,31 12,25 14,24.5 C16,24 18.5,29 20.9,29 C22.5,29 23,25.5 24.6,25.9 C26.5,26.5 27.5,32.5 29.4,32.2 C32,31.5 34.5,22.5 37,22.2 C38.5,22 39,23 39.4,23.8 L39.4,39.3 L5.9,39.3Z" fill="#d6e8fb"/><path d="M5.9,29 C7.5,31 8.5,33 9.8,32.7 C11.5,31 12,25 14,24.5 C16,24 18.5,29 20.9,29 C22.5,29 23,25.5 24.6,25.9 C26.5,26.5 27.5,32.5 29.4,32.2 C32,31.5 34.5,22.5 37,22.2 C38.5,22 39,23 39.4,23.8" stroke="#4a94e4" stroke-width="0.9" fill="none"/></svg></div><div class="a" style="left:1748px;top:377px;width:170px;height:1px;background:#dcdcdc"></div><div class="t" style="left:1757px;top:399.7px;font-size:10.5px;color:#333">Custom</div><div class="a" style="left:1757px;top:426px;width:46px;height:46px;background:#fff;border:1px solid #c4c4c4;box-shadow:inset 0 0 0 0.5px #d8d8d8"><svg width="46" height="46" viewBox="0 0 46 46" style="position:absolute;left:-1px;top:-1px;overflow:visible"><text x="9.7" y="16.6" font-family="Liberation Serif" font-weight="bold" font-size="6.3" fill="#8b7fd4">DATA</text><rect x="29" y="12.9" width="7.60" height="1.80" fill="#7cc020"/><text x="15" y="24" font-family="Liberation Serif" font-weight="bold" font-size="6.5" fill="#1c8ad8">CLOUD</text><rect x="8.9" y="22.9" width="4.70" height="2.70" fill="#f08040"/><rect x="10.8" y="27.9" width="7.90" height="2.70" fill="#7cc020"/><rect x="21.9" y="27.9" width="16.90" height="0.60" fill="#f08040"/><rect x="12.7" y="34.8" width="4.20" height="1.80" fill="#8b7fd4"/><rect x="18.7" y="32.9" width="16.10" height="3.70" fill="#1a80d8"/></svg></div><div class="a" style="left:1811px;top:426px;width:46px;height:46px;background:#fff;border:1px solid #c4c4c4;box-shadow:inset 0 0 0 0.5px #d8d8d8"><svg width="46" height="46" viewBox="0 0 46 46" style="position:absolute;left:-1px;top:-1px;overflow:visible"><line x1="9.2" y1="9.2" x2="9.2" y2="38.8" stroke="#bbb" stroke-width="0.6"/><line x1="24.3" y1="9.2" x2="24.3" y2="38.8" stroke="#bbb" stroke-width="0.6"/><line x1="38.2" y1="9.2" x2="38.2" y2="38.8" stroke="#bbb" stroke-width="0.6"/><line x1="9.2" y1="14.1" x2="38.2" y2="14.1" stroke="#ccc" stroke-width="0.6"/><line x1="9.2" y1="20.1" x2="38.2" y2="20.1" stroke="#ccc" stroke-width="0.6"/><line x1="9.2" y1="27.5" x2="38.2" y2="27.5" stroke="#ccc" stroke-width="0.6"/><line x1="9.2" y1="33.3" x2="38.2" y2="33.3" stroke="#ccc" stroke-width="0.6"/><rect x="9.2" y="15" width="8.40" height="4.50" fill="#9b8fd0"/><rect x="18" y="21.1" width="12.60" height="5.70" fill="#80c080"/><rect x="30.8" y="27.9" width="7.70" height="5.00" fill="#f09060"/></svg></div><div class="a" style="left:1865px;top:426px;width:46px;height:46px;background:#fff;border:1px solid #c4c4c4;box-shadow:inset 0 0 0 0.5px #d8d8d8"><svg width="46" height="46" viewBox="0 0 46 46" style="position:absolute;left:-1px;top:-1px;overflow:visible"><text x="11.4" y="28.7" font-family="Liberation Sans" font-size="14.3" fill="#444">KPI</text></svg></div><div class="a" style="left:1757px;top:480px;width:46px;height:46px;background:#fff;border:1px solid #c4c4c4;box-shadow:inset 0 0 0 0.5px #d8d8d8"><svg width="46" height="46" viewBox="0 0 46 46" style="position:absolute;left:-1px;top:-1px;overflow:visible"></svg></div><div class="a" style="left:1811px;top:480px;width:46px;height:46px;background:#fff;border:1px solid #c4c4c4;box-shadow:inset 0 0 0 0.5px #d8d8d8"><svg width="46" height="46" viewBox="0 0 46 46" style="position:absolute;left:-1px;top:-1px;overflow:visible"><path d="M23.80,17.30A6.5,6.5 0 0 1 26.02,29.91L24.89,26.81A3.2,3.2 0 0 0 23.80,20.60Z" fill="#6ab46a" opacity="1" stroke="#fff" stroke-width="0.5"/><path d="M26.02,29.91A6.5,6.5 0 0 1 19.62,28.78L21.74,26.25A3.2,3.2 0 0 0 24.89,26.81Z" fill="#9a8ad0" opacity="1" stroke="#fff" stroke-width="0.5"/><path d="M19.62,28.78A6.5,6.5 0 0 1 23.80,17.30L23.80,20.60A3.2,3.2 0 0 0 21.74,26.25Z" fill="#e8702a" opacity="1" stroke="#fff" stroke-width="0.5"/><path d="M23.80,13.30A10.5,10.5 0 0 1 29.05,14.71L27.30,17.74A7,7 0 0 0 23.80,16.80Z" fill="#6ab46a" opacity="0.55" stroke="#fff" stroke-width="0.5"/><path d="M29.05,14.71A10.5,10.5 0 0 1 32.89,18.55L29.86,20.30A7,7 0 0 0 27.30,17.74Z" fill="#6ab46a" opacity="0.55" stroke="#fff" stroke-width="0.5"/><path d="M32.89,18.55A10.5,10.5 0 0 1 34.30,23.80L30.80,23.80A7,7 0 0 0 29.86,20.30Z" fill="#6ab46a" opacity="0.55" stroke="#fff" stroke-width="0.5"/><path d="M34.30,23.80A10.5,10.5 0 0 1 32.89,29.05L29.86,27.30A7,7 0 0 0 30.80,23.80Z" fill="#6ab46a" opacity="0.55" stroke="#fff" stroke-width="0.5"/><path d="M32.89,29.05A10.5,10.5 0 0 1 29.05,32.89L27.30,29.86A7,7 0 0 0 29.86,27.30Z" fill="#6ab46a" opacity="0.55" stroke="#fff" stroke-width="0.5"/><path d="M29.05,32.89A10.5,10.5 0 0 1 23.80,34.30L23.80,30.80A7,7 0 0 0 27.30,29.86Z" fill="#9a8ad0" opacity="0.55" stroke="#fff" stroke-width="0.5"/><path d="M23.80,34.30A10.5,10.5 0 0 1 18.55,32.89L20.30,29.86A7,7 0 0 0 23.80,30.80Z" fill="#9a8ad0" opacity="0.55" stroke="#fff" stroke-width="0.5"/><path d="M18.55,32.89A10.5,10.5 0 0 1 14.71,29.05L17.74,27.30A7,7 0 0 0 20.30,29.86Z" fill="#9a8ad0" opacity="0.55" stroke="#fff" stroke-width="0.5"/><path d="M14.71,29.05A10.5,10.5 0 0 1 13.30,23.80L16.80,23.80A7,7 0 0 0 17.74,27.30Z" fill="#e8702a" opacity="0.55" stroke="#fff" stroke-width="0.5"/><path d="M13.30,23.80A10.5,10.5 0 0 1 14.71,18.55L17.74,20.30A7,7 0 0 0 16.80,23.80Z" fill="#e8702a" opacity="0.55" stroke="#fff" stroke-width="0.5"/><path d="M14.71,18.55A10.5,10.5 0 0 1 18.55,14.71L20.30,17.74A7,7 0 0 0 17.74,20.30Z" fill="#e8702a" opacity="0.55" stroke="#fff" stroke-width="0.5"/><path d="M18.55,14.71A10.5,10.5 0 0 1 23.80,13.30L23.80,16.80A7,7 0 0 0 20.30,17.74Z" fill="#e8702a" opacity="0.55" stroke="#fff" stroke-width="0.5"/><path d="M23.80,9.00A14.8,14.8 0 0 1 31.20,10.98L29.30,14.27A11,11 0 0 0 23.80,12.80Z" fill="#6ab46a" opacity="0.3" stroke="#fff" stroke-width="0.5"/><path d="M31.20,10.98A14.8,14.8 0 0 1 36.62,16.40L33.33,18.30A11,11 0 0 0 29.30,14.27Z" fill="#6ab46a" opacity="0.3" stroke="#fff" stroke-width="0.5"/><path d="M36.62,16.40A14.8,14.8 0 0 1 38.60,23.80L34.80,23.80A11,11 0 0 0 33.33,18.30Z" fill="#6ab46a" opacity="0.3" stroke="#fff" stroke-width="0.5"/><path d="M38.60,23.80A14.8,14.8 0 0 1 36.62,31.20L33.33,29.30A11,11 0 0 0 34.80,23.80Z" fill="#6ab46a" opacity="0.3" stroke="#fff" stroke-width="0.5"/><path d="M36.62,31.20A14.8,14.8 0 0 1 31.20,36.62L29.30,33.33A11,11 0 0 0 33.33,29.30Z" fill="#6ab46a" opacity="0.3" stroke="#fff" stroke-width="0.5"/><path d="M31.20,36.62A14.8,14.8 0 0 1 23.80,38.60L23.80,34.80A11,11 0 0 0 29.30,33.33Z" fill="#9a8ad0" opacity="0.3" stroke="#fff" stroke-width="0.5"/><path d="M23.80,38.60A14.8,14.8 0 0 1 16.40,36.62L18.30,33.33A11,11 0 0 0 23.80,34.80Z" fill="#9a8ad0" opacity="0.3" stroke="#fff" stroke-width="0.5"/><path d="M16.40,36.62A14.8,14.8 0 0 1 10.98,31.20L14.27,29.30A11,11 0 0 0 18.30,33.33Z" fill="#9a8ad0" opacity="0.3" stroke="#fff" stroke-width="0.5"/><path d="M10.98,31.20A14.8,14.8 0 0 1 9.00,23.80L12.80,23.80A11,11 0 0 0 14.27,29.30Z" fill="#e8702a" opacity="0.3" stroke="#fff" stroke-width="0.5"/><path d="M9.00,23.80A14.8,14.8 0 0 1 10.98,16.40L14.27,18.30A11,11 0 0 0 12.80,23.80Z" fill="#e8702a" opacity="0.3" stroke="#fff" stroke-width="0.5"/><path d="M10.98,16.40A14.8,14.8 0 0 1 16.40,10.98L18.30,14.27A11,11 0 0 0 14.27,18.30Z" fill="#e8702a" opacity="0.3" stroke="#fff" stroke-width="0.5"/><path d="M16.40,10.98A14.8,14.8 0 0 1 23.80,9.00L23.80,12.80A11,11 0 0 0 18.30,14.27Z" fill="#e8702a" opacity="0.3" stroke="#fff" stroke-width="0.5"/></svg></div><div class="a" style="left:1865px;top:480px;width:46px;height:46px;background:#fff;border:1px dashed #b8b8b8;box-shadow:inset 0 0 0 0.5px #d8d8d8"><svg width="46" height="46" viewBox="0 0 46 46" style="position:absolute;left:-1px;top:-1px;overflow:visible"><path d="M22.8,10V35.9M9.8,23.3H35.7" stroke="#3d8fe8" stroke-width="2"/></svg></div><svg class="a" style="left:0;top:0;z-index:5" width="1920" height="36"><path d="M21,16.5 L26,12 L26,15 C31,15 34,18 35.5,23.5 C33,20.5 30,19 26,19 L26,22 Z" fill="#b4b6b8"/><path d="M80.5,16.5 L75.5,12 L75.5,15 C70.5,15 67.5,18 66,23.5 C68.5,20.5 71.5,19 75.5,19 L75.5,22 Z" fill="#b4b6b8"/><path d="M113,11 H125 L127.5,13.5 V25 H113 Z" fill="#6b6e72"/><rect x="115" y="19" width="10.5" height="4.5" fill="#fafafa"/><rect x="115.5" y="11" width="8" height="4.5" fill="#fafafa"/><rect x="121" y="11.8" width="1.5" height="2.8" fill="#6b6e72"/><path d="M161.5,18 A6.5,6.5 0 0 1 172.5,13.5" stroke="#6b6e72" stroke-width="2" fill="none"/><path d="M173,20 A6.5,6.5 0 0 1 162,22.5" stroke="#6b6e72" stroke-width="2" fill="none"/><path d="M170.5,11 L175,12 L173,16.5Z" fill="#6b6e72"/><path d="M158.5,17 L164,17.5 L161,21.5Z" fill="#6b6e72"/><g stroke="#6b6e72" stroke-width="1.3" fill="none"><ellipse cx="212" cy="12.5" rx="6.3" ry="2.5"/><path d="M205.7,12.5V22.5C205.7,24 208.5,25 212,25 M218.3,12.5V18 M205.7,16c0,1.4 2.8,2.5 6.3,2.5 M205.7,19.5c0,1.4 2.8,2.5 6.3,2.5"/></g><circle cx="216" cy="22" r="4.3" fill="#1a7ae0" stroke="#fafafa" stroke-width="0.8"/><rect x="214.3" y="19.8" width="1.1" height="4.4" fill="#fff"/><rect x="216.6" y="19.8" width="1.1" height="4.4" fill="#fff"/><rect x="240" y="8" width="1" height="18" fill="#9a9a9a"/><ellipse cx="270.5" cy="12.5" rx="6.5" ry="2.8" fill="#6b6e72"/><path d="M264,14.5 V17 C264,18.5 267,19.5 270.5,19.5 C272,19.5 273.5,19.3 274.5,19 V17 C273.5,17.3 272,17.5 270.5,17.5 C267,17.5 264,16.5 264,14.5Z M264,19 V21.5 C264,23 267,24 270.5,24 L272,24 V22 C271.5,22 271,22 270.5,22 C267,22 264,21 264,19Z" fill="#6b6e72"/><path d="M273,21.8H280.5M276.75,18V25.5" stroke="#1a7ae0" stroke-width="2.2"/><path d="M288.5,16.5 L292,20 L295.5,16.5" stroke="#6b6e72" stroke-width="1" fill="none"/><path d="M326.5,12 H323.5 V23.5 H331" stroke="#6b6e72" stroke-width="1.3" fill="none"/><path d="M328,8.5 H333 L336.5,12 V17" stroke="#6b6e72" stroke-width="1.3" fill="none"/><path d="M328,8.5 V15 L331,12.5Z M333,8.5 V12 H336.5Z" fill="#6b6e72"/><path d="M329.5,21.5H338.5M334,17V26" stroke="#1a7ae0" stroke-width="2.2"/><path d="M374,23.5 H370 V9.5 H377.5 L381,13 V17" stroke="#6b6e72" stroke-width="1.3" fill="none"/><path d="M377,9.5 V13.5 H381Z" fill="#6b6e72"/><path d="M375,21.5H384M379.5,17V26" stroke="#1a7ae0" stroke-width="2.2"/><rect x="948" y="15.5" width="1.8" height="6.5" fill="#6b6e72"/><rect x="951.5" y="13" width="1.8" height="9" fill="#6b6e72"/><rect x="955" y="14.5" width="1.8" height="7.5" fill="#6b6e72"/><rect x="958.5" y="10" width="1.8" height="7.5" fill="#6b6e72"/><path d="M960,21.8H968M964,17.8V25.8" stroke="#1a7ae0" stroke-width="2"/><rect x="993.5" y="12.5" width="19" height="10" fill="#fff" stroke="#7cc01e"/><rect x="1002" y="12" width="11" height="11" fill="#7cc01e"/><path d="M1005,15.5H1010.5L1007.75,19.5Z" fill="#fff"/><path d="M1042,11 H1054 V14.7 H1053 V12.2 H1049 V22 H1051 V23 H1045 V22 H1047 V12.2 H1043 V14.7 H1042 Z" fill="#6b6e72"/><rect x="1085.5" y="11.5" width="15" height="11" fill="#fff" stroke="#2d8ae8" stroke-width="1.2"/><path d="M1088,20.5 L1091,17.5 L1093,19 L1095.5,16 L1098.5,20.5Z" fill="#2d8ae8"/><circle cx="1098" cy="14.3" r="1" fill="#f05a4a"/><path d="M1133.8,11.3 L1131.3,13.6 L1133.8,15.9 M1141.8,11.3 L1144.3,13.6 L1141.8,15.9" stroke="#6b6e72" stroke-width="1.4" fill="none"/><text x="1137.8" y="25.2" font-family="Liberation Sans" font-weight="bold" font-size="6" fill="#555" text-anchor="middle" letter-spacing="0.4" stroke="#555" stroke-width="0.25">HTML</text><circle cx="1732" cy="16.5" r="7" stroke="#2d8ae8" stroke-width="1.4" fill="none"/><circle cx="1732" cy="8.8" r="1" fill="#2d8ae8"/><circle cx="1732" cy="24.2" r="1" fill="#2d8ae8"/><circle cx="1724.3" cy="16.5" r="1" fill="#2d8ae8"/><circle cx="1739.7" cy="16.5" r="1" fill="#2d8ae8"/><path d="M1735.5,12.5 L1733,17.5 L1728.5,20.5 L1731,15.5Z" fill="#2d8ae8"/><circle cx="1731.5" cy="12.3" r="0.7" fill="#f05a4a"/><rect x="1770" y="9" width="20" height="15" fill="#d6e6f8" stroke="#888" stroke-width="0.8"/><rect x="1774" y="12" width="7" height="5" fill="#fff" stroke="#666" stroke-width="0.9"/><rect x="1778" y="16" width="8" height="5" fill="#fff" stroke="#666" stroke-width="0.9"/><g fill="#fff" stroke="#555" stroke-width="0.7"><circle cx="1770" cy="9" r="1.3"/><circle cx="1790" cy="9" r="1.3"/><circle cx="1770" cy="24" r="1.3"/><circle cx="1790" cy="24" r="1.3"/></g><rect x="1823.7" y="9.6" width="8.7" height="13.8" fill="#eaeaea" stroke="#6a6a6a" stroke-width="1"/><path d="M1818,16.4H1823M1820.4,14L1822.8,16.4L1820.4,18.8 M1838,16.4H1833M1835.6,14L1833.2,16.4L1835.6,18.8" stroke="#333" stroke-width="1" fill="none"/><rect x="1860" y="8" width="1" height="18" fill="#9a9a9a"/><rect x="1884" y="10" width="14" height="9.5" fill="#e8604c"/><rect x="1890.3" y="19.5" width="1.4" height="3" fill="#e8604c"/><rect x="1887.5" y="22" width="7" height="1.5" fill="#e8604c"/><path d="M1889.5,12.5V17L1893.5,14.75Z" fill="#fff"/></svg><svg class="a" style="left:0;top:0;z-index:5" width="40" height="260"><rect x="13" y="46" width="14" height="15.5" fill="#fff"/><g fill="#5a5c60"><rect x="15" y="50" width="2" height="1.1"/><rect x="19" y="50" width="6" height="1.1"/><rect x="15" y="53" width="2" height="1.1"/><rect x="19" y="53" width="6" height="1.1"/><rect x="15" y="56" width="2" height="1.1"/><rect x="19" y="56" width="6" height="1.1"/></g><g fill="#fff"><ellipse cx="20" cy="84" rx="7" ry="3"/><path d="M13,86.3 V88 C13,89.7 16,91 20,91 C24,91 27,89.7 27,88 V86.3 C26,87.7 23.5,88.5 20,88.5 C16.5,88.5 14,87.7 13,86.3Z"/><path d="M13,90.3 V92 C13,93.7 16,95 20,95 C24,95 27,93.7 27,92 V90.3 C26,91.7 23.5,92.5 20,92.5 C16.5,92.5 14,91.7 13,90.3Z"/></g><path d="M13.5,132.5 L14.5,128.5 L23,120 L26,123 L17.5,131.5Z" fill="#fff"/><path d="M23.8,119.2 L24.8,118.2 L27.8,121.2 L26.8,122.2Z" fill="#fff"/><path d="M13.5,155.5 H26.5 L21.3,162 V169 L18.7,167.5 V162Z" fill="#fff"/><g transform="translate(20,197.5)" fill="#fff"><circle r="5"/><rect x="-1.6" y="-7" width="3.2" height="3" rx="0.5" transform="rotate(0)"/><rect x="-1.6" y="-7" width="3.2" height="3" rx="0.5" transform="rotate(45)"/><rect x="-1.6" y="-7" width="3.2" height="3" rx="0.5" transform="rotate(90)"/><rect x="-1.6" y="-7" width="3.2" height="3" rx="0.5" transform="rotate(135)"/><rect x="-1.6" y="-7" width="3.2" height="3" rx="0.5" transform="rotate(180)"/><rect x="-1.6" y="-7" width="3.2" height="3" rx="0.5" transform="rotate(225)"/><rect x="-1.6" y="-7" width="3.2" height="3" rx="0.5" transform="rotate(270)"/><rect x="-1.6" y="-7" width="3.2" height="3" rx="0.5" transform="rotate(315)"/><circle r="2.2" fill="#424448"/></g><g fill="#fff"><rect x="13" y="237" width="2" height="3"/><rect x="17" y="233" width="2" height="7"/><rect x="21" y="235" width="2" height="5"/><rect x="25" y="228" width="2" height="12"/></g></svg><svg class="a" style="left:48px;top:41px;z-index:5" width="12" height="13"><rect width="12" height="13" fill="#3c3e42"/><g fill="#fff"><rect x="2" y="2.5" width="2" height="1.3"/><rect x="5" y="2.5" width="5.5" height="1.3"/><rect x="2" y="5.8" width="2" height="1.3"/><rect x="5" y="5.8" width="5.5" height="1.3"/><rect x="2" y="9.1" width="2" height="1.3"/><rect x="5" y="9.1" width="5.5" height="1.3"/></g></svg><svg class="a" style="left:218px;top:43px;z-index:5" width="12" height="13"><g fill="#3c3e42"><ellipse cx="6" cy="2.5" rx="5.5" ry="2.3"/><path d="M0.5,4.3 V5.8 C0.5,7 3,8 6,8 C9,8 11.5,7 11.5,5.8 V4.3 C10.5,5.5 8.5,6.2 6,6.2 C3.5,6.2 1.5,5.5 0.5,4.3Z"/><path d="M0.5,8 V9.5 C0.5,10.7 3,11.7 6,11.7 C9,11.7 11.5,10.7 11.5,9.5 V8 C10.5,9.2 8.5,9.9 6,9.9 C3.5,9.9 1.5,9.2 0.5,8Z"/></g></svg><svg class="a" style="left:48px;top:64px;z-index:5" width="80" height="45"><path d="M0,0 L40,26 L80,0 Z" fill="rgba(0,0,0,0.03)"/><path d="M80,8 L80,45 L45,45Z" fill="rgba(255,255,255,0.13)"/><path d="M0,45 L36,24 L0,5Z" fill="rgba(255,255,255,0.06)"/><path d="M29.5,19 L37.5,11 L41,12.5 L33.5,20.5 L42.5,27.5 L49,21" stroke="#fff" stroke-width="1.3" fill="none" stroke-linejoin="round"/><path d="M33.5,18.5 L43,10 L50.5,17.5 L41.5,25.5Z" fill="#fff"/><path d="M50.2,10.8 L55.3,20.2 H45.1Z" fill="#f5a623" stroke="#f5a623" stroke-width="0.6" stroke-linejoin="round"/><rect x="49.7" y="13.3" width="1" height="3.3" fill="#fff"/><rect x="49.7" y="17.6" width="1" height="1" fill="#fff"/></svg><svg class="a" style="left:369px;top:70px;z-index:5" width="16" height="16"><circle cx="7" cy="7" r="5" stroke="#555" stroke-width="1.1" fill="none"/><path d="M10.6,10.6 L14,14" stroke="#555" stroke-width="1.2"/></svg><svg class="a" style="left:255px;top:73px;z-index:5" width="12" height="10"><path d="M2,3 L6,7 L10,3" stroke="#555" stroke-width="1" fill="none"/></svg><svg class="a" style="left:357px;top:99px;z-index:5" width="14" height="12"><path d="M2,6.5 L5,9.5 L11.5,2.5" stroke="#444" stroke-width="1.3" fill="none"/></svg><svg class="a" style="left:403px;top:37px;z-index:5" width="172" height="24"><path d="M10.5,16.5 L11.2,13.5 L17.5,7.2 L19.8,9.5 L13.5,15.8Z" fill="#444"/><path d="M18.5,6.2 L19.3,5.4 L21.6,7.7 L20.8,8.5Z" fill="#444"/><path d="M84,8 H92.5 L89.2,12.2 V17 L87.3,16 V12.2Z" fill="#7a7a7a"/><g transform="translate(117.8,11)"><circle r="4.2" fill="#7a7a7a"/><g fill="#7a7a7a"><rect x="-1.2" y="-5.6" width="2.4" height="2.6" transform="rotate(0)"/><rect x="-1.2" y="-5.6" width="2.4" height="2.6" transform="rotate(45)"/><rect x="-1.2" y="-5.6" width="2.4" height="2.6" transform="rotate(90)"/><rect x="-1.2" y="-5.6" width="2.4" height="2.6" transform="rotate(135)"/><rect x="-1.2" y="-5.6" width="2.4" height="2.6" transform="rotate(180)"/><rect x="-1.2" y="-5.6" width="2.4" height="2.6" transform="rotate(225)"/><rect x="-1.2" y="-5.6" width="2.4" height="2.6" transform="rotate(270)"/><rect x="-1.2" y="-5.6" width="2.4" height="2.6" transform="rotate(315)"/></g><circle r="1.7" fill="#d9d9d9"/></g></svg><svg class="a" style="left:410px;top:100px;z-index:5" width="90" height="22"><path d="M8,15 V5.5 H17" stroke="#444" stroke-width="1.2" fill="none"/><path d="M17,3 L20,5.5 L17,8Z" fill="#444"/><path d="M5.5,14 L8,17 L10.5,14Z" fill="#444"/><path d="M38,6 H46.5 V7 M38,6 L42.5,11 L38,16.2 H46.5 V15" stroke="#aaa" stroke-width="1.1" fill="none"/><path d="M67.5,12.5 L73.5,6.5 L78.5,11.5 L72.5,17.5Z" fill="#666"/><path d="M67.5,12.5 L70.5,15.5 L72.5,17.5 H69.5 L66.3,14.3Z" fill="#fff" stroke="#555" stroke-width="0.9"/><path d="M66,17.8 H72.5" stroke="#555" stroke-width="1.1"/></svg><div class="a" style="left:411px;top:131px;width:156px;height:57px;border:1px dashed #d8d8d8;z-index:4"></div><div class="t" style="left:416.5px;top:139.5px;font-size:10px;color:#777;font-weight:normal;z-index:5">Vertical</div><div class="a" style="left:416px;top:155px;width:146px;height:26px;border:1px solid #f5c590;background:#fff8f1;border-radius:2px;z-index:5"></div><svg class="a" style="left:422px;top:160px;z-index:6" width="14" height="15"><path d="M0.5,13.5 V1.5 H6.5 V4.5 H9.5 V7.5 H11.5 V13.5 Z M6.5,4.5 V13.5 M9.5,7.5 V13.5 M2.3,4.5 H6.5 M2.3,7.5 H6.5 M2.3,10.5 H6.5" stroke="#f0a550" stroke-width="1.05" fill="none"/></svg><div class="t" style="left:441px;top:162.0px;font-size:12px;color:#e9a25a;font-weight:normal;z-index:6">Opportunity Co...</div><svg class="a" style="left:542px;top:161px;z-index:6" width="14" height="14"><g stroke="#777" stroke-width="0.8" fill="none"><rect x="3.5" y="3.5" width="9" height="8"/><path d="M3.5,6.2H12.5M3.5,8.9H12.5M6.5,3.5V11.5M9.5,3.5V11.5"/></g><path d="M1.5,1.5V12" stroke="#444" stroke-width="1.1"/></svg><div class="a" style="left:411px;top:198px;width:156px;height:57px;border:1px dashed #d8d8d8;z-index:4"></div><div class="t" style="left:416.5px;top:206.5px;font-size:10px;color:#777;font-weight:normal;z-index:5">Horizontal</div><div class="a" style="left:416px;top:222px;width:146px;height:26px;border:1px solid #93d6b3;background:#f1faf5;border-radius:2px;z-index:5"></div><div class="di" style="left:424px;top:229.5px;z-index:6"></div><div class="t" style="left:441px;top:229.0px;font-size:12px;color:#5dba8c;font-weight:normal;z-index:6">Year Quarter</div><svg class="a" style="left:542px;top:228px;z-index:6" width="14" height="14"><g stroke="#777" stroke-width="0.8" fill="none"><rect x="2.5" y="2.5" width="9" height="8"/><path d="M2.5,5.2H11.5M2.5,7.9H11.5M5.5,2.5V10.5M8.5,2.5V10.5"/></g><path d="M2,12.5H12.5" stroke="#444" stroke-width="1.1"/><path d="M11.5,11L13.5,12.5L11.5,14Z" fill="#444"/></svg><div class="a" style="left:411px;top:265px;width:156px;height:55px;border:1px dashed #d8d8d8;z-index:4"></div><div class="t" style="left:416.5px;top:273.5px;font-size:10px;color:#777;font-weight:normal;z-index:5">Color By</div><div class="a" style="left:416px;top:289px;width:146px;height:26px;border:1px solid #93d6b3;background:#f1faf5;border-radius:2px;z-index:5"></div><div class="di" style="left:424px;top:296.5px;z-index:6"></div><div class="t" style="left:441px;top:296.0px;font-size:12px;color:#5dba8c;font-weight:normal;z-index:6">Opportunity Str...</div><div class="a" style="left:411px;top:330px;width:156px;height:81px;border:1px dashed #d8d8d8;z-index:4"></div><div class="t" style="left:416.5px;top:338.5px;font-size:10px;color:#777;font-weight:normal;z-index:5">Break By</div><div class="a" style="left:416px;top:354px;width:146px;height:26px;border:1px solid #93d6b3;background:#f1faf5;border-radius:2px;z-index:5"></div><div class="di" style="left:424px;top:361.5px;z-index:6"></div><div class="t" style="left:441px;top:361.0px;font-size:12px;color:#5dba8c;font-weight:normal;z-index:6">Opportunity Str...</div><div class="a" style="left:416px;top:380px;width:146px;height:26px;border:1px solid #dedede;background:#fff;z-index:5"></div><div class="a" style="left:471px;top:381px;width:47px;height:24px;background:#e9e9e9;border-left:1px solid #dedede;border-right:1px solid #dedede;z-index:5"></div><div class="t" style="left:421.6px;top:386.7px;font-size:11px;color:#555;font-weight:normal;z-index:6">Clustered</div><div class="t" style="left:475.4px;top:386.7px;font-size:11px;color:#555;font-weight:normal;z-index:6">Stacked</div><div class="t" style="left:520.9px;top:386.7px;font-size:11px;color:#555;font-weight:normal;z-index:6">Percent</div><div class="a" style="left:411px;top:421px;width:156px;height:57px;border:1px dashed #d8d8d8;z-index:4"></div><div class="t" style="left:416.5px;top:429.5px;font-size:10px;color:#777;font-weight:normal;z-index:5">Size By</div><div class="a" style="left:411px;top:489px;width:156px;height:84px;border:1px dashed #d8d8d8;z-index:4"></div><div class="t" style="left:416.5px;top:497.5px;font-size:10px;color:#777;font-weight:normal;z-index:5">Tooltip</div><div class="a" style="left:416px;top:513px;width:146px;height:26px;border:1px solid #f5c590;background:#fff8f1;border-radius:2px;z-index:5"></div><svg class="a" style="left:422px;top:518px;z-index:6" width="15" height="15"><path d="M0.5,13.5 V1.5 H6.5 V4.5 H9.5 V7.5 H11.5 V13.5 Z" stroke="#f0a550" stroke-width="1.05" fill="#fff"/><text x="1.1" y="12" font-family="Liberation Sans" font-weight="bold" font-size="9" fill="#333">fx</text></svg><div class="t" style="left:441px;top:520.0px;font-size:12px;color:#e9a25a;font-weight:normal;z-index:6">% Total Opport...</div><div class="a" style="left:416px;top:542px;width:146px;height:26px;border:1px solid #f5c590;background:#fff8f1;border-radius:2px;z-index:5"></div><svg class="a" style="left:422px;top:547px;z-index:6" width="15" height="15"><path d="M0.5,13.5 V1.5 H6.5 V4.5 H9.5 V7.5 H11.5 V13.5 Z" stroke="#f0a550" stroke-width="1.05" fill="#fff"/><text x="1.1" y="12" font-family="Liberation Sans" font-weight="bold" font-size="9" fill="#333">fx</text></svg><div class="t" style="left:441px;top:549.0px;font-size:12px;color:#e9a25a;font-weight:normal;z-index:6">Opportunity Co...</div><svg width="1920" height="1042" style="position:absolute;left:0;top:0;pointer-events:none;z-index:2"><defs><clipPath id="cb"><rect x="0" y="0" width="1920" height="479"/></clipPath></defs><g clip-path="url(#cb)"><rect x="619.5" y="392.5" width="31" height="88.0" fill="#61bd5e" stroke="#1aa01a" stroke-width="1"/><rect x="657.5" y="372.5" width="31" height="108.0" fill="#61bd5e" stroke="#1aa01a" stroke-width="1"/><rect x="694.5" y="446.7" width="31" height="33.8" fill="#e05a5c" stroke="#d81818" stroke-width="1"/><rect x="694.5" y="305.7" width="31" height="141.0" fill="#61bd5e" stroke="#1aa01a" stroke-width="1"/><rect x="694.5" y="298.5" width="31" height="7.2" fill="#ad85d5" stroke="#8e50c6" stroke-width="1"/><rect x="731.5" y="446.7" width="31" height="33.8" fill="#e05a5c" stroke="#d81818" stroke-width="1"/><rect x="731.5" y="338.7" width="31" height="108.0" fill="#61bd5e" stroke="#1aa01a" stroke-width="1"/><rect x="731.5" y="311.5" width="31" height="27.2" fill="#ad85d5" stroke="#8e50c6" stroke-width="1"/><rect x="768.5" y="473.5" width="31" height="7.0" fill="#e05a5c" stroke="#d81818" stroke-width="1"/><rect x="768.5" y="406.5" width="31" height="67.0" fill="#61bd5e" stroke="#1aa01a" stroke-width="1"/><rect x="805.5" y="460.5" width="31" height="20.0" fill="#629fcb" stroke="#1f77b4" stroke-width="1"/><rect x="805.5" y="446.7" width="31" height="13.8" fill="#e05a5c" stroke="#d81818" stroke-width="1"/><rect x="805.5" y="345.7" width="31" height="101.0" fill="#61bd5e" stroke="#1aa01a" stroke-width="1"/><rect x="805.5" y="332.5" width="31" height="13.2" fill="#ad85d5" stroke="#8e50c6" stroke-width="1"/><rect x="842.5" y="460.5" width="31" height="20.0" fill="#e05a5c" stroke="#d81818" stroke-width="1"/><rect x="842.5" y="371.7" width="31" height="88.8" fill="#61bd5e" stroke="#1aa01a" stroke-width="1"/><rect x="842.5" y="365.5" width="31" height="6.2" fill="#ad85d5" stroke="#8e50c6" stroke-width="1"/><rect x="880.5" y="473.5" width="31" height="7.0" fill="#629fcb" stroke="#1f77b4" stroke-width="1"/><rect x="880.5" y="460.5" width="31" height="13.0" fill="#e05a5c" stroke="#d81818" stroke-width="1"/><rect x="880.5" y="196.7" width="31" height="263.8" fill="#61bd5e" stroke="#1aa01a" stroke-width="1"/><rect x="880.5" y="182.7" width="31" height="14.0" fill="#fea559" stroke="#ff7f0e" stroke-width="1"/><rect x="880.5" y="143.5" width="31" height="39.2" fill="#ad85d5" stroke="#8e50c6" stroke-width="1"/><rect x="917.5" y="440.2" width="31" height="40.3" fill="#629fcb" stroke="#1f77b4" stroke-width="1"/><rect x="917.5" y="406.2" width="31" height="34.0" fill="#e05a5c" stroke="#d81818" stroke-width="1"/><rect x="917.5" y="176.2" width="31" height="230.0" fill="#61bd5e" stroke="#1aa01a" stroke-width="1"/><rect x="917.5" y="156.2" width="31" height="20.0" fill="#fea559" stroke="#ff7f0e" stroke-width="1"/><rect x="917.5" y="89.5" width="31" height="66.7" fill="#ad85d5" stroke="#8e50c6" stroke-width="1"/><rect x="954.5" y="453.2" width="31" height="27.3" fill="#629fcb" stroke="#1f77b4" stroke-width="1"/><rect x="954.5" y="419.2" width="31" height="34.0" fill="#e05a5c" stroke="#d81818" stroke-width="1"/><rect x="954.5" y="237.2" width="31" height="182.0" fill="#61bd5e" stroke="#1aa01a" stroke-width="1"/><rect x="954.5" y="216.7" width="31" height="20.5" fill="#fea559" stroke="#ff7f0e" stroke-width="1"/><rect x="954.5" y="197.5" width="31" height="19.2" fill="#ad85d5" stroke="#8e50c6" stroke-width="1"/><rect x="991.5" y="460.5" width="31" height="20.0" fill="#629fcb" stroke="#1f77b4" stroke-width="1"/><rect x="991.5" y="446.2" width="31" height="14.3" fill="#e05a5c" stroke="#d81818" stroke-width="1"/><rect x="991.5" y="426.5" width="31" height="19.7" fill="#61bd5e" stroke="#1aa01a" stroke-width="1"/><rect x="1028.5" y="467.5" width="31" height="13.0" fill="#e05a5c" stroke="#d81818" stroke-width="1"/><rect x="1028.5" y="433.5" width="31" height="34.0" fill="#61bd5e" stroke="#1aa01a" stroke-width="1"/><rect x="1198.5" y="410.2" width="31" height="70.3" fill="#629fcb" stroke="#1f77b4" stroke-width="1"/><rect x="1198.5" y="335.5" width="31" height="74.7" fill="#ad85d5" stroke="#8e50c6" stroke-width="1"/><rect x="1235.5" y="427.2" width="31" height="53.3" fill="#629fcb" stroke="#1f77b4" stroke-width="1"/><rect x="1235.5" y="311.5" width="31" height="115.7" fill="#ad85d5" stroke="#8e50c6" stroke-width="1"/><rect x="1271.5" y="332.7" width="31" height="147.8" fill="#629fcb" stroke="#1f77b4" stroke-width="1"/><rect x="1271.5" y="141.5" width="31" height="191.2" fill="#ad85d5" stroke="#8e50c6" stroke-width="1"/><rect x="1308.5" y="321.2" width="31" height="159.3" fill="#629fcb" stroke="#1f77b4" stroke-width="1"/><rect x="1308.5" y="217.5" width="31" height="103.7" fill="#ad85d5" stroke="#8e50c6" stroke-width="1"/><rect x="1345.5" y="465.2" width="31" height="15.3" fill="#629fcb" stroke="#1f77b4" stroke-width="1"/><rect x="1345.5" y="387.5" width="31" height="77.7" fill="#ad85d5" stroke="#8e50c6" stroke-width="1"/><rect x="1381.5" y="373.5" width="31" height="107.0" fill="#629fcb" stroke="#1f77b4" stroke-width="1"/><rect x="1381.5" y="146.0" width="31" height="227.5" fill="#ad85d5" stroke="#8e50c6" stroke-width="1"/><rect x="1418.5" y="421.2" width="31" height="59.3" fill="#629fcb" stroke="#1f77b4" stroke-width="1"/><rect x="1418.5" y="332.0" width="31" height="89.2" fill="#ad85d5" stroke="#8e50c6" stroke-width="1"/><rect x="1454.5" y="447.5" width="31" height="33.0" fill="#629fcb" stroke="#1f77b4" stroke-width="1"/><rect x="1454.5" y="341.5" width="31" height="106.0" fill="#ad85d5" stroke="#8e50c6" stroke-width="1"/><rect x="1491.5" y="460.5" width="31" height="20.0" fill="#629fcb" stroke="#1f77b4" stroke-width="1"/><rect x="1491.5" y="384.5" width="31" height="76.0" fill="#e05a5c" stroke="#d81818" stroke-width="1"/><rect x="1491.5" y="340.2" width="31" height="44.3" fill="#61bd5e" stroke="#1aa01a" stroke-width="1"/><rect x="1491.5" y="113.2" width="31" height="227.0" fill="#fea559" stroke="#ff7f0e" stroke-width="1"/><rect x="1491.5" y="81.5" width="31" height="31.7" fill="#ad85d5" stroke="#8e50c6" stroke-width="1"/><rect x="1528.5" y="466.7" width="31" height="13.8" fill="#61bd5e" stroke="#1aa01a" stroke-width="1"/><rect x="1528.5" y="240.2" width="31" height="226.5" fill="#fea559" stroke="#ff7f0e" stroke-width="1"/><rect x="1528.5" y="236.5" width="31" height="3.7" fill="#ad85d5" stroke="#8e50c6" stroke-width="1"/><rect x="1564.5" y="422.5" width="31" height="58.0" fill="#fea559" stroke="#ff7f0e" stroke-width="1"/><rect x="1601.5" y="459.3" width="31" height="21.2" fill="#e05a5c" stroke="#d81818" stroke-width="1"/><rect x="1601.5" y="438.5" width="31" height="20.8" fill="#fea559" stroke="#ff7f0e" stroke-width="1"/></g><path d="M844.00,557.50 A203.5,203.5 0 0 1 1046.60,741.85 L985.37,747.64 A142,142 0 0 0 844.00,619.00 Z" fill="#629fcb" stroke="#1f77b4" stroke-width="1"/><path d="M1046.60,741.85 A203.5,203.5 0 0 1 1015.13,871.12 L963.41,837.84 A142,142 0 0 0 985.37,747.64 Z" fill="#e05a5c" stroke="#d81818" stroke-width="1"/><path d="M1015.13,871.12 A203.5,203.5 0 0 1 928.33,946.21 L902.84,890.24 A142,142 0 0 0 963.41,837.84 Z" fill="#61bd5e" stroke="#1aa01a" stroke-width="1"/><path d="M928.33,946.21 A203.5,203.5 0 0 1 688.02,891.70 L735.16,852.20 A142,142 0 0 0 902.84,890.24 Z" fill="#fea559" stroke="#ff7f0e" stroke-width="1"/><path d="M688.02,891.70 A203.5,203.5 0 0 1 844.00,557.50 L844.00,619.00 A142,142 0 0 0 735.16,852.20 Z" fill="#ad85d5" stroke="#8e50c6" stroke-width="1"/><path d="M1363.00,557.20 A203.5,203.5 0 0 1 1543.14,666.04 L1488.26,694.88 A141.5,141.5 0 0 0 1363.00,619.20 Z" fill="#629fcb" stroke="#1f77b4" stroke-width="1"/><path d="M1543.14,666.04 A203.5,203.5 0 0 1 1566.46,756.86 L1504.47,758.03 A141.5,141.5 0 0 0 1488.26,694.88 Z" fill="#e05a5c" stroke="#d81818" stroke-width="1"/><path d="M1566.46,756.86 A203.5,203.5 0 0 1 1533.44,871.89 L1481.51,838.01 A141.5,141.5 0 0 0 1504.47,758.03 Z" fill="#61bd5e" stroke="#1aa01a" stroke-width="1"/><path d="M1533.44,871.89 A203.5,203.5 0 0 1 1193.97,874.02 L1245.47,839.50 A141.5,141.5 0 0 0 1481.51,838.01 Z" fill="#fea559" stroke="#ff7f0e" stroke-width="1"/><path d="M1193.97,874.02 A203.5,203.5 0 0 1 1363.00,557.20 L1363.00,619.20 A141.5,141.5 0 0 0 1245.47,839.50 Z" fill="#ad85d5" stroke="#8e50c6" stroke-width="1"/></svg></body></html>
